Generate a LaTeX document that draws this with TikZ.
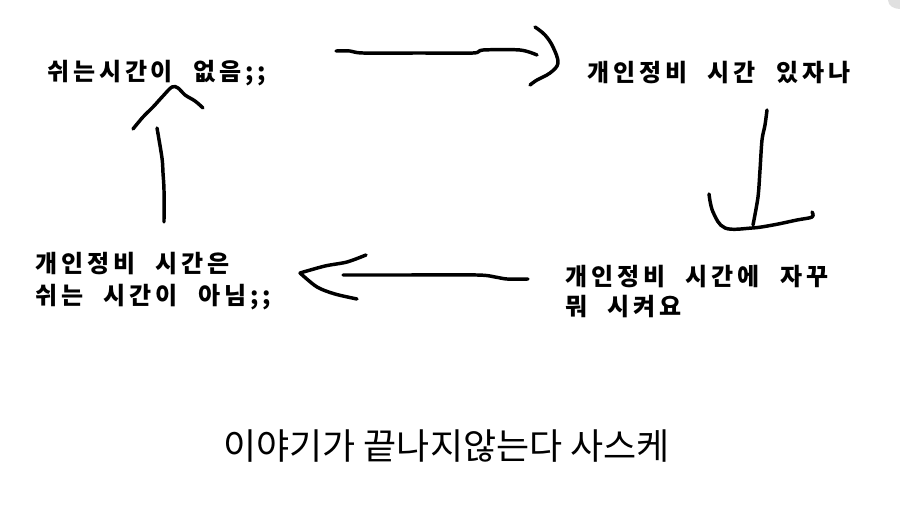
\documentclass[tikz,border=0pt]{standalone}
\usepackage{fontspec}
\newfontfamily\hand[LetterSpace=16,WordSpace=2.2]{Noto Sans CJK KR}
\newfontfamily\plainkr{Noto Sans CJK KR}
\begin{document}
\begin{tikzpicture}[x=0.75pt,y=-0.75pt,
  stroke/.style={line width=2.6pt,line cap=round,line join=round,black},
  handtext/.style={inner sep=0pt,font=\hand\bfseries\fontsize{18pt}{24pt}\selectfont,align=left},
  caption/.style={inner sep=0pt,font=\plainkr\fontsize{27pt}{32pt}\selectfont}]
\useasboundingbox[fill=white] (0,0) rectangle (900,532);
\fill[black!12] (888,0) -- (900,0) -- (900,9) to[out=180,in=270] (888,0) -- cycle;

% texts
\node[handtext,anchor=base west] (rest) at (47,80) {쉬는시간이 없음;;};
\node[handtext,anchor=base west] (have) at (587,81) {개인정비 시간 있자나};
\node[handtext,anchor=west,font=\hand\bfseries\fontsize{18pt}{22.5pt}\selectfont] (task) at (565,292) {개인정비 시간에 자꾸\\뭐 시켜요};
\node[handtext,anchor=west] (notrest) at (35,281) {개인정비 시간은\\쉬는 시간이 아님;;};
\node[caption,anchor=base west] (cap) at (223,459) {이야기가 끝나지않는다 사스케};

% top arrow
\draw[stroke] plot[smooth,tension=0.5] coordinates {(336,51) (350,51) (363,53) (420,53) (473,53) (483,50) (520,50) (537,55)};
\draw[stroke] plot[smooth,tension=0.6] coordinates {(535,27) (545,35) (553,47) (558,63) (550,73) (537,80) (530,85)};

% right down arrow
\draw[stroke] plot[smooth,tension=0.5] coordinates {(767,110) (765,125) (762,140) (760,170) (758,197) (753,225)};
\draw[stroke] plot[smooth,tension=0.6] coordinates {(709,194) (713,212) (725,228) (752,228) (773,225) (797,220) (812,217) (812,212)};

% bottom left arrow
\draw[stroke] plot[smooth,tension=0.5] coordinates {(528,279) (507,279) (495,277) (477,275) (400,275) (343,275)};
\draw[stroke] plot[smooth,tension=0.5] coordinates {(366,255) (347,262) (325,266) (300,273)};
\draw[stroke] plot[smooth,tension=0.5] coordinates {(300,273) (317,287) (335,294) (357,299)};

% up arrow
\draw[stroke] plot[smooth,tension=0.5] coordinates {(164,222) (164,190) (163,173) (162,158) (157,128)};
\draw[stroke] plot[smooth,tension=0.6] coordinates {(133,129) (143,117) (153,107) (163,96) (172,87) (178,88) (185,95) (195,101) (203,108)};
\end{tikzpicture}
\end{document}
